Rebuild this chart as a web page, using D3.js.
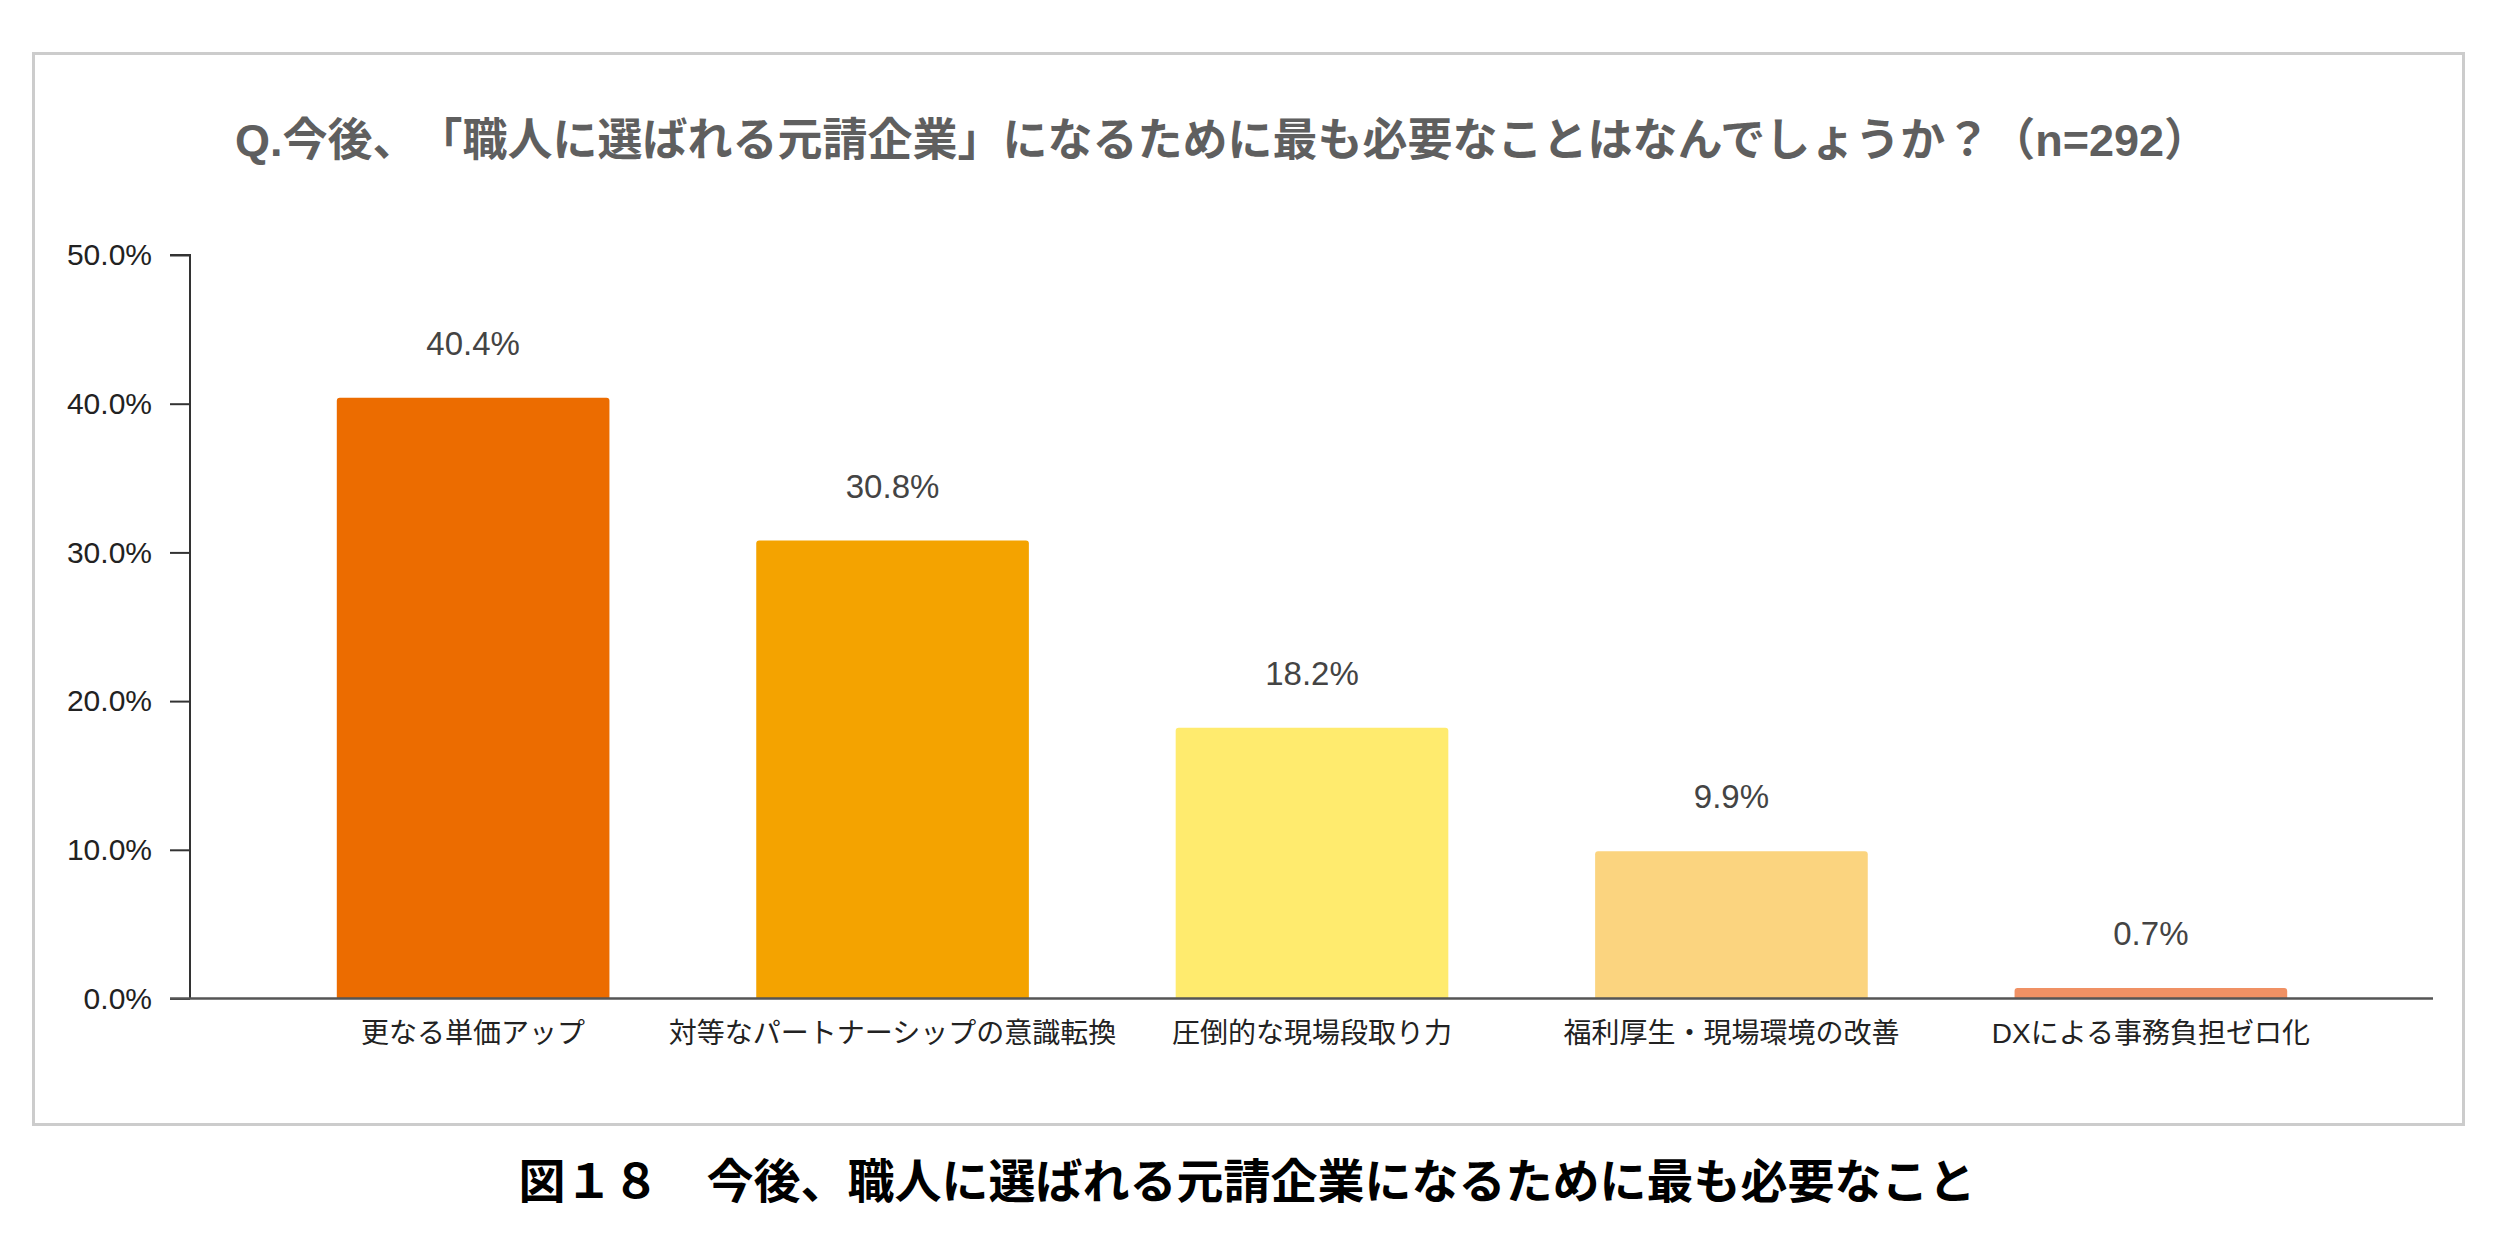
<!DOCTYPE html>
<html>
<head>
<meta charset="utf-8">
<script src="https://cdn.jsdelivr.net/npm/d3@7"></script>
<style>
  html, body { margin: 0; padding: 0; background: #fff; }
  svg { display: block; }
  text { text-spacing-trim: space-all; font-feature-settings: "palt" 0, "halt" 0; }
</style>
</head>
<body>
<svg id="chart" width="2500" height="1252"></svg>
<script>
const categories = ["更なる単価アップ", "対等なパートナーシップの意識転換", "圧倒的な現場段取り力", "福利厚生・現場環境の改善", "DXによる事務負担ゼロ化"];
const values = [40.4, 30.8, 18.2, 9.9, 0.7];
const colors = ["#EC6C00", "#F4A300", "#FFEB6E", "#FBD47F", "#F09164"];
const yTicks = [0, 10, 20, 30, 40, 50];
const titleText = "Q.今後、「職人に選ばれる元請企業」になるために最も必要なことはなんでしょうか？（n=292）";
const captionText = "図１８　今後、職人に選ばれる元請企業になるために最も必要なこと";

const latin = '"Liberation Sans", Arial, "Noto Sans CJK JP", sans-serif';
const cjk = '"Noto Sans CJK JP", "Liberation Sans", sans-serif';

const svg = d3.select("#chart");

// frame
svg.append("rect")
  .attr("x", 33.5).attr("y", 53.5)
  .attr("width", 2430).attr("height", 1071)
  .attr("fill", "#fff").attr("stroke", "#cccccc").attr("stroke-width", 3);

// title
svg.append("text")
  .attr("x", 235).attr("y", 156)
  .attr("font-family", latin)
  .attr("font-size", 45).attr("font-weight", "bold")
  .attr("fill", "#5f5f5f")
  .text(titleText);

const x = d3.scaleBand().domain(categories).range([190, 2434]).paddingInner(0.35).paddingOuter(0.35);
const y = d3.scaleLinear().domain([0, 50]).range([998.5, 255]);

// y axis
const yAxis = d3.axisLeft(y).tickValues(yTicks).tickSize(20).tickPadding(18)
  .tickFormat(d => d.toFixed(1) + "%");
const gy = svg.append("g").attr("transform", "translate(190,0)").call(yAxis);
gy.select(".domain").attr("stroke", "#333").attr("stroke-width", 2).attr("d", `M-20,${y(50)}H0V${y(0)}`);
gy.selectAll(".tick line").attr("stroke", "#333").attr("stroke-width", 2);
gy.selectAll(".tick text").attr("font-family", latin).attr("font-size", 30).attr("fill", "#222");

// bars
const radius = 3;
svg.append("g").selectAll("path").data(values).join("path")
  .attr("fill", (d, i) => colors[i])
  .attr("d", (d, i) => {
    const x0 = x(categories[i]), w = x.bandwidth();
    const yt = y(d), yb = y(0);
    const r = Math.min(radius, (yb - yt));
    return `M${x0},${yb}V${yt + r}Q${x0},${yt} ${x0 + r},${yt}H${x0 + w - r}Q${x0 + w},${yt} ${x0 + w},${yt + r}V${yb}Z`;
  });

// x axis line
const xAxis = d3.axisBottom(x).tickSize(0).tickPadding(25);
const gx = svg.append("g").attr("transform", `translate(0,${y(0)})`).call(xAxis);
gx.select(".domain").attr("stroke", "#555").attr("stroke-width", 2.5).attr("d", "M170,0H2433");
gx.selectAll(".tick text").attr("font-family", latin).attr("font-size", 28).attr("fill", "#222")
  .attr("dy", "0.71em");

// value labels
svg.append("g").selectAll("text").data(values).join("text")
  .attr("x", (d, i) => x(categories[i]) + x.bandwidth() / 2)
  .attr("y", d => y(d) - 43)
  .attr("text-anchor", "middle")
  .attr("font-family", latin).attr("font-size", 33).attr("fill", "#444")
  .text(d => d.toFixed(1) + "%");

// caption
svg.append("text")
  .attr("x", 1247).attr("y", 1198)
  .attr("text-anchor", "middle")
  .attr("font-family", cjk).attr("font-size", 47).attr("font-weight", "bold")
  .attr("fill", "#000")
  .text(captionText);
</script>
</body>
</html>
